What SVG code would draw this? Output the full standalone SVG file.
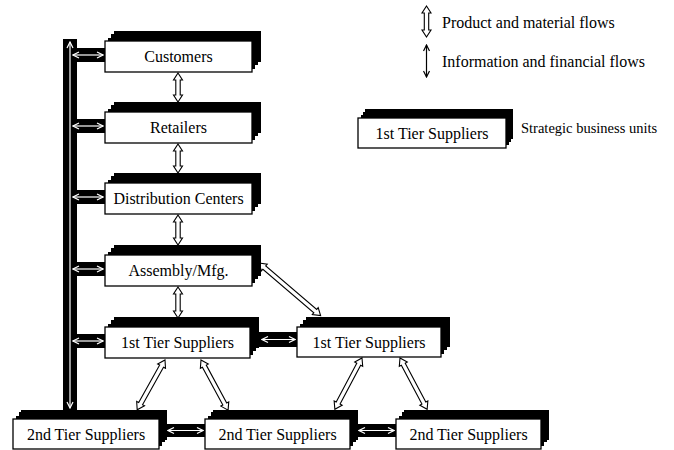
<svg xmlns="http://www.w3.org/2000/svg" width="674" height="450" viewBox="0 0 674 450">
  <style>
    .sh{fill:#000}
    .box{fill:#fff;stroke:#000;stroke-width:1.3}
    .lbl{font-family:"Liberation Serif","Times New Roman",serif;font-size:16px;fill:#000;text-anchor:middle;dominant-baseline:central}
    .leg{font-family:"Liberation Serif","Times New Roman",serif;font-size:16px;fill:#000;dominant-baseline:central}
    .leg-sm{font-size:14.5px}
    .flow{fill:#fff;stroke:#000;stroke-width:1.1;stroke-linejoin:miter}
    .bar{fill:#000}
    .wline{fill:none;stroke:#fff;stroke-width:1.2;marker-start:url(#wh);marker-end:url(#wh)}
    .bline{fill:none;stroke:#000;stroke-width:1.2;marker-start:url(#bh);marker-end:url(#bh)}
  </style>
  <defs>
    <marker id="wh" viewBox="0 0 8 8" refX="7" refY="4" markerWidth="8" markerHeight="8" markerUnits="userSpaceOnUse" orient="auto-start-reverse">
      <path d="M1,1 L7,4 L1,7" fill="none" stroke="#fff" stroke-width="1.2"/>
    </marker>
    <marker id="bh" viewBox="0 0 8 8" refX="7" refY="4" markerWidth="8" markerHeight="8" markerUnits="userSpaceOnUse" orient="auto-start-reverse">
      <path d="M1,1 L7,4 L1,7" fill="none" stroke="#000" stroke-width="1.2"/>
    </marker>
  </defs>

  <!-- connectors -->
  <g id="connectors">
    <!-- information / financial flow trunk -->
    <rect class="bar" x="63" y="39" width="14" height="372"/>
    <line class="wline" x1="70" y1="42" x2="70" y2="408"/>
    <!-- branches to each stage -->
    <rect class="bar" x="76" y="48" width="30" height="14"/>
    <line class="wline" x1="73" y1="55" x2="103" y2="55"/>
    <rect class="bar" x="76" y="119" width="30" height="14"/>
    <line class="wline" x1="73" y1="126" x2="103" y2="126"/>
    <rect class="bar" x="76" y="190" width="30" height="14"/>
    <line class="wline" x1="73" y1="197" x2="103" y2="197"/>
    <rect class="bar" x="76" y="262" width="30" height="14"/>
    <line class="wline" x1="73" y1="269" x2="103" y2="269"/>
    <rect class="bar" x="76" y="334" width="30" height="14"/>
    <line class="wline" x1="73" y1="341" x2="103" y2="341"/>
    <!-- between 1st tier suppliers -->
    <rect class="bar" x="255" y="332" width="43" height="15"/>
    <line class="wline" x1="262" y1="339.5" x2="295" y2="339.5"/>
    <!-- between 2nd tier suppliers -->
    <rect class="bar" x="158" y="424" width="48" height="13"/>
    <line class="wline" x1="168" y1="430.5" x2="203" y2="430.5"/>
    <rect class="bar" x="349" y="424" width="48" height="13"/>
    <line class="wline" x1="359" y1="430.5" x2="394" y2="430.5"/>

    <!-- product / material flows (hollow double arrows) -->
    <path class="flow" transform="translate(178,73) rotate(90)" d="M0,0 L7,-4.5 L7,-2.2 L22,-2.2 L22,-4.5 L29,0 L22,4.5 L22,2.2 L7,2.2 L7,4.5 Z"/>
    <path class="flow" transform="translate(178,144) rotate(90)" d="M0,0 L7,-4.5 L7,-2.2 L22,-2.2 L22,-4.5 L29,0 L22,4.5 L22,2.2 L7,2.2 L7,4.5 Z"/>
    <path class="flow" transform="translate(178,215) rotate(90)" d="M0,0 L7,-4.5 L7,-2.2 L23,-2.2 L23,-4.5 L30,0 L23,4.5 L23,2.2 L7,2.2 L7,4.5 Z"/>
    <path class="flow" transform="translate(178,287) rotate(90)" d="M0,0 L7,-4.5 L7,-2.2 L24,-2.2 L24,-4.5 L31,0 L24,4.5 L24,2.2 L7,2.2 L7,4.5 Z"/>
    <path class="flow" transform="translate(259,263) rotate(40.5)" d="M0,0 L7,-4.5 L7,-2.2 L74,-2.2 L74,-4.5 L81,0 L74,4.5 L74,2.2 L7,2.2 L7,4.5 Z"/>
    <path class="flow" transform="translate(165,360) rotate(119.2)" d="M0,0 L7,-4.5 L7,-2.2 L50,-2.2 L50,-4.5 L57,0 L50,4.5 L50,2.2 L7,2.2 L7,4.5 Z"/>
    <path class="flow" transform="translate(201,360) rotate(61.6)" d="M0,0 L7,-4.5 L7,-2.2 L50,-2.2 L50,-4.5 L57,0 L50,4.5 L50,2.2 L7,2.2 L7,4.5 Z"/>
    <path class="flow" transform="translate(362,358) rotate(117.9)" d="M0,0 L7,-4.5 L7,-2.2 L51,-2.2 L51,-4.5 L58,0 L51,4.5 L51,2.2 L7,2.2 L7,4.5 Z"/>
    <path class="flow" transform="translate(400,358) rotate(62.1)" d="M0,0 L7,-4.5 L7,-2.2 L51,-2.2 L51,-4.5 L58,0 L51,4.5 L51,2.2 L7,2.2 L7,4.5 Z"/>
  </g>

  <!-- stages -->
  <g id="customers">
    <rect class="sh" x="108" y="38" width="147" height="31"/>
    <rect class="sh" x="111" y="34" width="147" height="31"/>
    <rect class="sh" x="114" y="31" width="147" height="31"/>
    <rect class="box" x="105" y="41" width="147" height="31"/>
    <text class="lbl" x="178.5" y="56.5">Customers</text>
  </g>
  <g id="retailers">
    <rect class="sh" x="108" y="109" width="147" height="31"/>
    <rect class="sh" x="111" y="105" width="147" height="31"/>
    <rect class="sh" x="114" y="102" width="147" height="31"/>
    <rect class="box" x="105" y="112" width="147" height="31"/>
    <text class="lbl" x="178.5" y="127.5">Retailers</text>
  </g>
  <g id="distribution-centers">
    <rect class="sh" x="108" y="180" width="147" height="31"/>
    <rect class="sh" x="111" y="176" width="147" height="31"/>
    <rect class="sh" x="114" y="173" width="147" height="31"/>
    <rect class="box" x="105" y="183" width="147" height="31"/>
    <text class="lbl" x="178.5" y="198.5">Distribution Centers</text>
  </g>
  <g id="assembly">
    <rect class="sh" x="108" y="252" width="147" height="31"/>
    <rect class="sh" x="111" y="248" width="147" height="31"/>
    <rect class="sh" x="114" y="245" width="147" height="31"/>
    <rect class="box" x="105" y="255" width="147" height="31"/>
    <text class="lbl" x="178.5" y="270.5">Assembly/Mfg.</text>
  </g>
  <g id="tier1-a">
    <rect class="sh" x="108" y="324" width="145" height="31"/>
    <rect class="sh" x="111" y="320" width="145" height="31"/>
    <rect class="sh" x="114" y="317" width="145" height="31"/>
    <rect class="box" x="105" y="327" width="145" height="31"/>
    <text class="lbl" x="177.5" y="342.5">1st Tier Suppliers</text>
  </g>
  <g id="tier1-b">
    <rect class="sh" x="300" y="324" width="144" height="30"/>
    <rect class="sh" x="303" y="320" width="144" height="30"/>
    <rect class="sh" x="306" y="317" width="144" height="30"/>
    <rect class="box" x="297" y="327" width="144" height="30"/>
    <text class="lbl" x="369" y="342">1st Tier Suppliers</text>
  </g>
  <g id="tier2-a">
    <rect class="sh" x="16" y="416" width="146" height="30"/>
    <rect class="sh" x="19" y="412" width="146" height="30"/>
    <rect class="sh" x="21" y="410" width="146" height="30"/>
    <rect class="box" x="13" y="419" width="146" height="30"/>
    <text class="lbl" x="86" y="434">2nd Tier Suppliers</text>
  </g>
  <g id="tier2-b">
    <rect class="sh" x="208" y="416" width="145" height="30"/>
    <rect class="sh" x="211" y="412" width="145" height="30"/>
    <rect class="sh" x="213" y="410" width="145" height="30"/>
    <rect class="box" x="205" y="419" width="145" height="30"/>
    <text class="lbl" x="277.5" y="434">2nd Tier Suppliers</text>
  </g>
  <g id="tier2-c">
    <rect class="sh" x="399" y="416" width="145" height="30"/>
    <rect class="sh" x="402" y="412" width="145" height="30"/>
    <rect class="sh" x="404" y="410" width="145" height="30"/>
    <rect class="box" x="396" y="419" width="145" height="30"/>
    <text class="lbl" x="468.5" y="434">2nd Tier Suppliers</text>
  </g>

  <!-- key -->
  <g id="legend">
    <path class="flow" transform="translate(426.5,6) rotate(90)" d="M0,0 L7,-4.5 L7,-2.2 L24,-2.2 L24,-4.5 L31,0 L24,4.5 L24,2.2 L7,2.2 L7,4.5 Z"/>
    <text class="leg" x="442" y="22">Product and material flows</text>
    <line class="bline" x1="426.5" y1="45" x2="426.5" y2="77"/>
    <text class="leg" x="442" y="61">Information and financial flows</text>
    <rect class="sh" x="361" y="115" width="148" height="30"/>
    <rect class="sh" x="363" y="112" width="148" height="30"/>
    <rect class="sh" x="365" y="109" width="148" height="30"/>
    <rect class="box" x="358" y="118" width="148" height="30"/>
    <text class="lbl" x="432" y="133">1st Tier Suppliers</text>
    <text class="leg leg-sm" x="521" y="128">Strategic business units</text>
  </g>
</svg>
